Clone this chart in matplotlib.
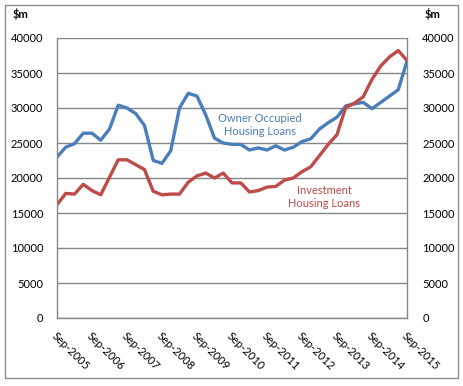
import matplotlib
matplotlib.use("Agg")
import matplotlib.pyplot as plt
from matplotlib.patches import Rectangle

plt.rcParams['font.family'] = ['Lato', 'DejaVu Sans']

tick_labels = ["Sep-2005", "Sep-2006", "Sep-2007", "Sep-2008", "Sep-2009", "Sep-2010",
               "Sep-2011", "Sep-2012", "Sep-2013", "Sep-2014", "Sep-2015"]

owner_occupied = [23000, 24400, 24900, 26400, 26400, 25400, 27000, 30400, 30000, 29200,
                  27500, 22500, 22100, 23900, 30000, 32100, 31700, 29000, 25700, 25000,
                  24800, 24800, 24000, 24300, 24000, 24600, 24000, 24400, 25200, 25600,
                  27000, 27900, 28700, 30300, 30600, 30800, 29900, 30800, 31700, 32600,
                  36700]
investment = [16200, 17800, 17700, 19100, 18200, 17600, 20100, 22600, 22600, 21900,
              21200, 18100, 17600, 17700, 17700, 19400, 20300, 20700, 20000, 20700,
              19300, 19300, 18000, 18200, 18700, 18800, 19700, 20000, 20900, 21600,
              23200, 24800, 26200, 30100, 30700, 31600, 34100, 36000, 37300, 38200,
              36800]
y_ticks = list(range(0, 40001, 5000))

W, H = 463, 386
fig = plt.figure(figsize=(W / 100, H / 100), dpi=100)
fig.patches.append(Rectangle((5 / W, 1 - 378 / H), 453 / W, 373 / H, transform=fig.transFigure,
                             fill=False, edgecolor='#8c8c8c', linewidth=1.0))

ax = fig.add_axes([57 / W, 1 - 318 / H, 350 / W, 280 / H])
x = list(range(len(owner_occupied)))
blue = '#4A7EBB'
red = '#BE4B48'
ax.plot(x, owner_occupied, color=blue, linewidth=2.4, solid_joinstyle='round')
ax.plot(x, investment, color=red, linewidth=2.4, solid_joinstyle='round')

ax.set_xlim(0, len(x) - 1)
ax.set_ylim(0, 40000)
ax.set_yticks(y_ticks)
ax.set_yticklabels([str(v) for v in y_ticks])
ax.grid(axis='y', color='#868686', linewidth=1.0)
ax.set_axisbelow(True)
for s in ax.spines.values():
    s.set_color('#868686')
    s.set_linewidth(1.0)
ax.spines['top'].set_visible(False)

ax.set_xticks(range(0, len(x), 4))
ax.set_xticklabels(tick_labels, rotation=-45, ha='left', va='top', rotation_mode='anchor',
                   fontsize=8)
ax.tick_params(axis='x', length=0, pad=9)
ax.tick_params(axis='y', length=0, pad=10, labelsize=8)

ax2 = ax.twinx()
ax2.set_ylim(0, 40000)
ax2.set_yticks(y_ticks)
ax2.set_yticklabels([str(v) for v in y_ticks])
ax2.tick_params(axis='y', length=0, pad=11, labelsize=8)
for s in ax2.spines.values():
    s.set_visible(False)

fig.text(13 / W, 1 - 14 / H, "$m", fontsize=8, fontweight='bold', ha='left', va='center')
fig.text(425 / W, 1 - 14 / H, "$m", fontsize=8, fontweight='bold', ha='left', va='center')

fig.text(260 / W, 1 - 125 / H, "Owner Occupied\nHousing Loans", color=blue,
         fontsize=8, ha='center', va='center', linespacing=1.3)
fig.text(324 / W, 1 - 197 / H, "Investment\nHousing Loans", color=red,
         fontsize=8, ha='center', va='center', linespacing=1.3)

fig.savefig("out.png", dpi=100)
